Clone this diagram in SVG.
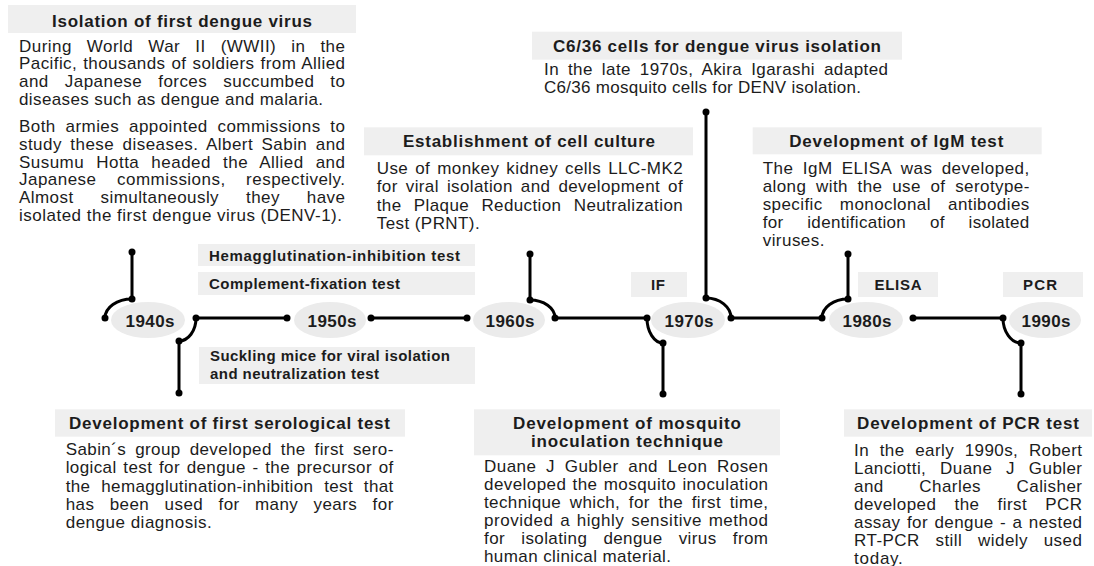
<svg xmlns="http://www.w3.org/2000/svg" width="1094" height="566" viewBox="0 0 1094 566">
<style>
text{font-family:"Liberation Sans",Arial,sans-serif;fill:#1c1c1c}
.hdr{font-size:17px;font-weight:bold;text-anchor:middle}
.bd{font-size:17px}
.lbl{font-size:15px;font-weight:bold}
.lblc{font-size:15px;font-weight:bold;text-anchor:middle}
.yr{font-size:17px;font-weight:bold;text-anchor:middle}
.box{fill:#efefef}
.ell{fill:#ebebeb}
.ln{fill:none;stroke:#000;stroke-width:3;stroke-linecap:round}
.dot{fill:#000}
</style>
<rect width="1094" height="566" fill="#fff"/>

<g id="connectors">
<path class="ln" d="M132 252V299A27 19 0 0 0 105 318"/>
<path class="ln" d="M287 318H196A17 23 0 0 1 179 341V393"/>
<path class="ln" d="M371 318H467"/>
<path class="ln" d="M530 254V300A25 18 0 0 1 555 318H647A16 25 0 0 0 663 343V394"/>
<path class="ln" d="M706 112V298A25 20 0 0 1 731 318H822A26 19 0 0 1 848 299V254"/>
<path class="ln" d="M913 318H1003A18 25 0 0 0 1021 343V394"/>
<g class="dot">
<circle cx="132" cy="252" r="3.5"/><circle cx="132" cy="299" r="3.5"/><circle cx="105" cy="318" r="3.5"/>
<circle cx="196" cy="318" r="3.5"/><circle cx="287" cy="318" r="3.5"/><circle cx="179" cy="341" r="3.5"/><circle cx="179" cy="393" r="3.5"/>
<circle cx="371" cy="318" r="3.5"/><circle cx="467" cy="318" r="3.5"/>
<circle cx="530" cy="254" r="3.5"/><circle cx="530" cy="300" r="3.5"/><circle cx="555" cy="318" r="3.5"/>
<circle cx="647" cy="318" r="3.5"/><circle cx="663" cy="343" r="3.5"/><circle cx="663" cy="394" r="3.5"/>
<circle cx="706" cy="112" r="3.5"/><circle cx="706" cy="298" r="3.5"/><circle cx="731" cy="318" r="3.5"/>
<circle cx="822" cy="318" r="3.5"/><circle cx="848" cy="299" r="3.5"/><circle cx="848" cy="254" r="3.5"/>
<circle cx="913" cy="318" r="3.5"/><circle cx="1003" cy="318" r="3.5"/><circle cx="1021" cy="343" r="3.5"/><circle cx="1021" cy="394" r="3.5"/>
</g>
</g>

<g id="y1940"><ellipse class="ell" cx="148" cy="320" rx="37" ry="18"/><text class="yr" x="150" y="327" textLength="49" lengthAdjust="spacing">1940s</text></g>
<g id="y1950"><ellipse class="ell" cx="330" cy="320" rx="36" ry="18"/><text class="yr" x="332" y="327" textLength="49" lengthAdjust="spacing">1950s</text></g>
<g id="y1960"><ellipse class="ell" cx="509" cy="320" rx="36" ry="18"/><text class="yr" x="510" y="327" textLength="49" lengthAdjust="spacing">1960s</text></g>
<g id="y1970"><ellipse class="ell" cx="688" cy="320" rx="37" ry="18"/><text class="yr" x="689" y="327" textLength="49" lengthAdjust="spacing">1970s</text></g>
<g id="y1980"><ellipse class="ell" cx="866" cy="320" rx="37" ry="18"/><text class="yr" x="867" y="327" textLength="49" lengthAdjust="spacing">1980s</text></g>
<g id="y1990"><ellipse class="ell" cx="1045" cy="320" rx="36" ry="18"/><text class="yr" x="1046" y="327" textLength="49" lengthAdjust="spacing">1990s</text></g>

<g id="hi-test"><rect class="box" x="198" y="244" width="277" height="22"/><text class="lbl" x="209" y="261" textLength="251" lengthAdjust="spacing">Hemagglutination-inhibition test</text></g>
<g id="cf-test"><rect class="box" x="198" y="272" width="277" height="23"/><text class="lbl" x="209" y="289" textLength="191" lengthAdjust="spacing">Complement-fixation test</text></g>
<g id="suckling"><rect class="box" x="199" y="347" width="276" height="37"/><text class="lbl" x="210" y="361" textLength="240" lengthAdjust="spacing">Suckling mice for viral isolation</text><text class="lbl" x="210" y="378.5" textLength="169" lengthAdjust="spacing">and neutralization test</text></g>
<g id="if"><rect class="box" x="631" y="272" width="56" height="25"/><text class="lblc" x="658" y="290" textLength="14" lengthAdjust="spacing">IF</text></g>
<g id="elisa"><rect class="box" x="858" y="272" width="80" height="25"/><text class="lblc" x="898" y="290" textLength="47" lengthAdjust="spacing">ELISA</text></g>
<g id="pcr-label"><rect class="box" x="1003" y="272" width="80" height="25"/><text class="lblc" x="1040" y="290" textLength="34" lengthAdjust="spacing">PCR</text></g>

<g id="isolation">
<rect class="box" x="8" y="5" width="348" height="28"/>
<text class="hdr" x="182" y="26.5" textLength="260" lengthAdjust="spacing">Isolation of first dengue virus</text>
<text class="bd" x="19" y="51.5" word-spacing="9.9" textLength="326" lengthAdjust="spacing">During World War II (WWII) in the</text>
<text class="bd" x="19" y="69.2" word-spacing="0.9" textLength="326" lengthAdjust="spacing">Pacific, thousands of soldiers from Allied</text>
<text class="bd" x="19" y="86.9" word-spacing="10.9" textLength="326" lengthAdjust="spacing">and Japanese forces succumbed to</text>
<text class="bd" x="19" y="104.6" textLength="304" lengthAdjust="spacing">diseases such as dengue and malaria.</text>
<text class="bd" x="19" y="132.3" word-spacing="4.6" textLength="326" lengthAdjust="spacing">Both armies appointed commissions to</text>
<text class="bd" x="19" y="150" word-spacing="3.3" textLength="326" lengthAdjust="spacing">study these diseases. Albert Sabin and</text>
<text class="bd" x="19" y="167.7" word-spacing="6.9" textLength="326" lengthAdjust="spacing">Susumu Hotta headed the Allied and</text>
<text class="bd" x="19" y="185.4" word-spacing="15.3" textLength="326" lengthAdjust="spacing">Japanese commissions, respectively.</text>
<text class="bd" x="19" y="203.1" word-spacing="21.8" textLength="326" lengthAdjust="spacing">Almost simultaneously they have</text>
<text class="bd" x="19" y="220.8" textLength="323" lengthAdjust="spacing">isolated the first dengue virus (DENV-1).</text>
</g>

<g id="cell-culture">
<rect class="box" x="364" y="127.3" width="329" height="28"/>
<text class="hdr" x="529" y="146.7" textLength="252" lengthAdjust="spacing">Establishment of cell culture</text>
<text class="bd" x="376.7" y="174" word-spacing="1.7" textLength="306" lengthAdjust="spacing">Use of monkey kidney cells LLC-MK2</text>
<text class="bd" x="376.7" y="192.3" word-spacing="2.9" textLength="306" lengthAdjust="spacing">for viral isolation and development of</text>
<text class="bd" x="376.7" y="210.6" word-spacing="7.2" textLength="306" lengthAdjust="spacing">the Plaque Reduction Neutralization</text>
<text class="bd" x="376.7" y="228.9" textLength="103" lengthAdjust="spacing">Test (PRNT).</text>
</g>

<g id="c636">
<rect class="box" x="532" y="31.7" width="370" height="28"/>
<text class="hdr" x="717" y="51.7" textLength="328" lengthAdjust="spacing">C6/36 cells for dengue virus isolation</text>
<text class="bd" x="544" y="75" word-spacing="3.8" textLength="344" lengthAdjust="spacing">In the late 1970s, Akira Igarashi adapted</text>
<text class="bd" x="544" y="92.7" textLength="317" lengthAdjust="spacing">C6/36 mosquito cells for DENV isolation.</text>
</g>

<g id="igm">
<rect class="box" x="752.7" y="127.3" width="289" height="27"/>
<text class="hdr" x="896.3" y="146.7" textLength="214" lengthAdjust="spacing">Development of IgM test</text>
<text class="bd" x="762.7" y="173.5" word-spacing="4" textLength="266.6" lengthAdjust="spacing">The IgM ELISA was developed,</text>
<text class="bd" x="762.7" y="191.5" word-spacing="4.6" textLength="266.6" lengthAdjust="spacing">along with the use of serotype-</text>
<text class="bd" x="762.7" y="209.5" word-spacing="12" textLength="266.6" lengthAdjust="spacing">specific monoclonal antibodies</text>
<text class="bd" x="762.7" y="227.5" word-spacing="18.8" textLength="266.6" lengthAdjust="spacing">for identification of isolated</text>
<text class="bd" x="762.7" y="245.5" textLength="61.7" lengthAdjust="spacing">viruses.</text>
</g>

<g id="serological">
<rect class="box" x="55" y="409.3" width="350" height="27.4"/>
<text class="hdr" x="229.5" y="429.3" textLength="321" lengthAdjust="spacing">Development of first serological test</text>
<text class="bd" x="65.7" y="455" word-spacing="3.8" textLength="327.6" lengthAdjust="spacing">Sabin´s group developed the first sero-</text>
<text class="bd" x="65.7" y="473.3" word-spacing="1.6" textLength="327.6" lengthAdjust="spacing">logical test for dengue - the precursor of</text>
<text class="bd" x="65.7" y="491.6" word-spacing="5.7" textLength="327.6" lengthAdjust="spacing">the hemagglutination-inhibition test that</text>
<text class="bd" x="65.7" y="509.9" word-spacing="10.2" textLength="327.6" lengthAdjust="spacing">has been used for many years for</text>
<text class="bd" x="65.7" y="528.2" textLength="146" lengthAdjust="spacing">dengue diagnosis.</text>
</g>

<g id="mosquito">
<rect class="box" x="474" y="409.3" width="306" height="46"/>
<text class="hdr" x="627" y="428.5" textLength="228" lengthAdjust="spacing">Development of mosquito</text>
<text class="hdr" x="627" y="446.5" textLength="192" lengthAdjust="spacing">inoculation technique</text>
<text class="bd" x="484" y="472" word-spacing="4.5" textLength="284" lengthAdjust="spacing">Duane J Gubler and Leon Rosen</text>
<text class="bd" x="484" y="490" word-spacing="1.1" textLength="284" lengthAdjust="spacing">developed the mosquito inoculation</text>
<text class="bd" x="484" y="508" word-spacing="3.5" textLength="284" lengthAdjust="spacing">technique which, for the first time,</text>
<text class="bd" x="484" y="526" word-spacing="1.5" textLength="284" lengthAdjust="spacing">provided a highly sensitive method</text>
<text class="bd" x="484" y="544" word-spacing="11" textLength="284" lengthAdjust="spacing">for isolating dengue virus from</text>
<text class="bd" x="484" y="562" textLength="187" lengthAdjust="spacing">human clinical material.</text>
</g>

<g id="pcr">
<rect class="box" x="844" y="409.3" width="248" height="27.4"/>
<text class="hdr" x="968" y="429.3" textLength="222" lengthAdjust="spacing">Development of PCR test</text>
<text class="bd" x="854" y="456" word-spacing="5.5" textLength="228" lengthAdjust="spacing">In the early 1990s, Robert</text>
<text class="bd" x="854" y="474" word-spacing="8.7" textLength="228" lengthAdjust="spacing">Lanciotti, Duane J Gubler</text>
<text class="bd" x="854" y="492" word-spacing="30.4" textLength="228" lengthAdjust="spacing">and Charles Calisher</text>
<text class="bd" x="854" y="510" word-spacing="13" textLength="228" lengthAdjust="spacing">developed the first PCR</text>
<text class="bd" x="854" y="528" word-spacing="1.2" textLength="228" lengthAdjust="spacing">assay for dengue - a nested</text>
<text class="bd" x="854" y="546" word-spacing="10.4" textLength="228" lengthAdjust="spacing">RT-PCR still widely used</text>
<text class="bd" x="854" y="564" textLength="48.8" lengthAdjust="spacing">today.</text>
</g>
</svg>
